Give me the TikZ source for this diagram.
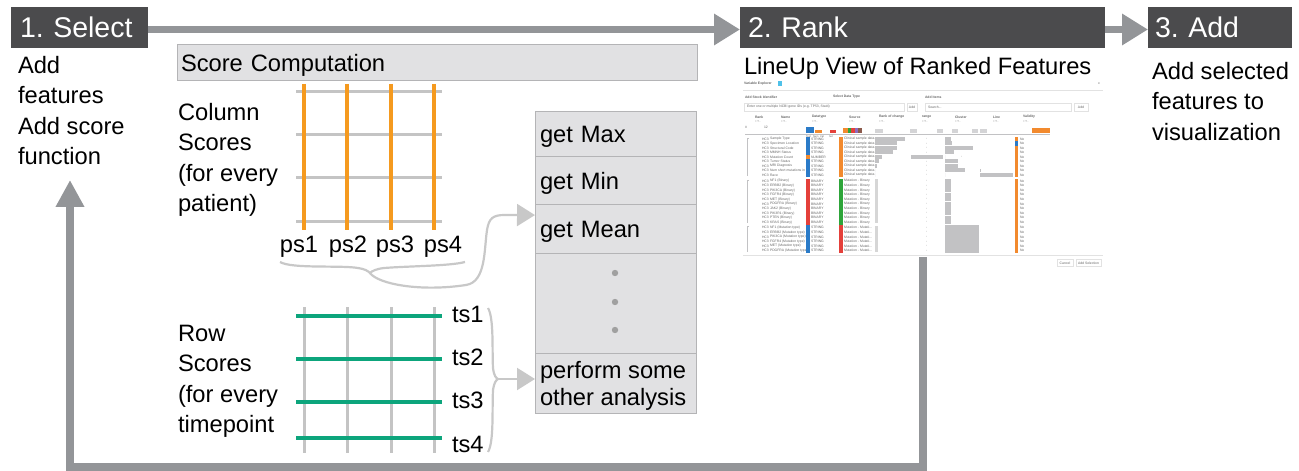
\documentclass[tikz,border=0pt]{standalone}
\usepackage{fontspec}
\setmainfont{Liberation Sans}
\usetikzlibrary{arrows.meta,calc}
\frenchspacing

% main palette
\definecolor{hdr}{HTML}{4B4B4D}
\definecolor{flowgray}{HTML}{939598}
\definecolor{boxfill}{HTML}{E1E1E3}
\definecolor{boxline}{HTML}{B4B4B6}
\definecolor{gridgray}{HTML}{C4C4C4}
\definecolor{scoreorange}{HTML}{F59A1F}
\definecolor{scoregreen}{HTML}{0DA57C}
\definecolor{bracegray}{HTML}{C8C8C8}
\definecolor{dotgray}{HTML}{A0A0A0}
% LineUp view palette
\definecolor{luBlue}{HTML}{2B7BC8}
\definecolor{luOrange}{HTML}{F28A2E}
\definecolor{luRed}{HTML}{E4403A}
\definecolor{luGreen}{HTML}{2EA53A}
\definecolor{luPurple}{HTML}{8E6BBF}
\definecolor{luBrown}{HTML}{8C5A4B}
\definecolor{luBar}{HTML}{C2C2C4}
\definecolor{luText}{HTML}{666666}
\definecolor{luCyan}{HTML}{4FC1E9}
\definecolor{luLine}{HTML}{E2E2E2}
\definecolor{luFaint}{HTML}{D6D6D6}

\newcommand{\bodyfont}{\fontsize{23.7bp}{30.5bp}\selectfont}
\newcommand{\stagefont}{\fontsize{28.5bp}{34bp}\selectfont}
\newcommand{\menufont}{\fontsize{23.7bp}{27bp}\selectfont}
\newcommand{\lutiny}{\fontsize{3.4bp}{4bp}\selectfont}
\newcommand{\lumicro}{\fontsize{2.6bp}{3bp}\selectfont}

\begin{document}
\begin{tikzpicture}[x=1bp,y=-1bp,
  stage/.style={fill=hdr,text=white,font=\stagefont,align=left,anchor=north west,
    minimum height=41bp,inner ysep=0pt,outer sep=0pt},
  flow/.style={draw=flowgray,line width=7bp,line join=miter,-{Triangle[length=26bp,width=30bp]}},
  note/.style={font=\bodyfont,align=left,anchor=north west,inner sep=0pt,outer sep=0pt},
  grayrow/.style={draw=boxline,fill=boxfill,line width=1bp,anchor=north west,font=\bodyfont,
    align=left,inner xsep=5bp,inner ysep=0pt,outer sep=0pt},
  oneline/.style={text height=17bp,text depth=0bp},
  scorelabel/.style={font=\bodyfont,inner sep=0pt,outer sep=0pt},
  gridline/.style={draw=gridgray,line width=3bp},
  colscore/.style={draw=scoreorange,line width=3.5bp},
  rowscore/.style={draw=scoregreen,line width=3.5bp},
  brace/.style={draw=bracegray,line width=2.2bp},
  bracearrow/.style={brace,-{Triangle[length=18bp,width=22bp]}},
  lutxt/.style={font=\lutiny,text=luText,inner sep=0pt,outer sep=0pt,anchor=west},
  lubold/.style={lutxt,font=\lutiny\bfseries},
  lubox/.style={draw=luLine,line width=0.6bp},
  luaxis/.style={draw=luBar,line width=0.7bp},
  lutree/.style={draw=luBar,line width=0.6bp},
]
\useasboundingbox (0,0) rectangle (1299,471);

% ---------- workflow stages ----------
\node[stage,text width=119bp,inner xsep=9bp] (select) at (11,7) {1. Select};
\node[stage,text width=349bp,inner xsep=8bp] (rank) at (740,7) {2. Rank};
\node[stage,text width=130bp,inner xsep=7bp] (add) at (1148,7) {3. Add};
\draw[flow] ([yshift=-2bp]select.east) -- ([yshift=-2bp]rank.west);
\draw[flow] ([yshift=-2bp]rank.east) -- ([yshift=-2bp]add.west);

\node[note] (seltext) at (18,56) {Add\\features\\Add score\\function};
\node[note] (lutitle) at (744,57) {LineUp View of Ranked Features};
\node[note] (addtext) at (1152,62) {Add selected\\features to\\visualization};

% ---------- score computation ----------
\node[grayrow,oneline,text width=512bp,inner xsep=4bp,minimum height=36bp] (scorecomp) at (177,45) {Score Computation};

\node[note] (coltext) at (178,103) {Column\\Scores\\(for every\\patient)};
\node[note] (rowtext) at (178,325) {Row\\Scores\\(for every\\timepoint};

% column scores grid
\foreach \y in {92,135,178,222} \draw[gridline] (296,\y) -- (442,\y);
\foreach \x in {304,347,391,434} \draw[colscore] (\x,84) -- (\x,230);
\foreach \x [count=\k] in {299,348,395,443} \node[scorelabel,anchor=base] (ps\k) at (\x,253) {ps\k};

% row scores grid
\foreach \x in {304,347,391,434} \draw[gridline] (\x,307) -- (\x,453);
\foreach \y in {316,359,402,438} \draw[rowscore] (296,\y) -- (442,\y);
\foreach \y [count=\k] in {323,365,408,452} \node[scorelabel,anchor=base west] (ts\k) at (452,\y) {ts\k};

% score functions
\node[grayrow,oneline,text width=151bp,minimum height=45bp] (max) at (535,112) {get Max};
\node[grayrow,oneline,text width=151bp,minimum height=48bp] (min) at (max.south west) {get Min};
\node[grayrow,oneline,text width=151bp,minimum height=48bp] (mean) at (min.south west) {get Mean};
\node[grayrow,text width=151bp,minimum height=100bp] (more) at (mean.south west) {};
\node[grayrow,text width=151bp,minimum height=60bp] (other) at (more.south west) {};
\node[note,font=\menufont] (othertext) at (540,361) {perform some\\other analysis};
\foreach \y in {273,302,330} \fill[dotgray] (615,\y) circle (3.2bp);

% brace under the patient scores
\coordinate (cbtip) at (370,273);
\draw[brace] (280,262) .. controls (292,269) and (340,265) .. (358,268)
  .. controls (365,269) and (368,271) .. (cbtip)
  .. controls (372,271) and (376,269) .. (384,268)
  .. controls (410,266) and (450,266) .. (465,262);
\coordinate (meanin) at ($(mean.north west)!0.21!(mean.south west)$);
\draw[bracearrow] (cbtip) .. controls (378,284) and (420,292) .. (466,285)
  .. controls (486,282) and (484,250) .. (487,230)
  .. controls (489,218) and (493,215) .. (505,215) -- (meanin);

% brace beside the timepoint scores
\coordinate (rbtip) at (498,379);
\draw[brace] (488,308) .. controls (494,318) and (492,350) .. (493,368)
  .. controls (494,376) and (496,378) .. (rbtip)
  .. controls (496,380) and (494,383) .. (493,390)
  .. controls (492,410) and (494,442) .. (488,452);
\draw[bracearrow] (rbtip) -- (rbtip -| other.west);

% ---------- LineUp view ----------
\node[minimum width=361bp,minimum height=178bp,anchor=north west,inner sep=0pt,outer sep=0pt] (lineup) at (742,79) {};
\node[lubold] (vetitle) at (744,84) {Variable Explorer};
\fill[luCyan] (777.5,81.5) rectangle (782,86);
\node[lutxt] (veclose) at (1098,84) {x};
\draw[luLine,line width=0.6bp] (743,90) -- (1103,90);
\node[lubold] (vestock) at (745,97) {Add Stock Identifier};
\node[lubold] (vetype) at (833,97) {Select Data Type};
\node[lubold] (veitems) at (925,97) {Add Items};
\draw[lubox] (744,103) rectangle (904,111);
\node[lutxt] (vesearchA) at (747,107) {Enter one or multiple NCBI gene IDs (e.g. TP53, Stat4)};
\draw[lubox] (907,103) rectangle (917,111);
\node[lutxt,anchor=center] (veaddA) at (912,107) {Add};
\draw[lubox] (925,103) rectangle (1071,111);
\node[lutxt] (vesearchB) at (928,107) {Search...};
\draw[lubox] (1074,103) rectangle (1088,111);
\node[lutxt,anchor=center] (veaddB) at (1081,107) {Add};

% column headers
\foreach \x/\t [count=\k] in {755/Rank,781/Name,812/Datatype,849/Source,879/Rank of change,922/range,955/Cluster,993/Line,1023/Validity} {
  \node[lubold] (luhead\k) at (\x,117) {\t};
  \node[lutxt,font=\lumicro] (lusort\k) at (\x,122) {= T -};
}
\node[lutxt] (luhash) at (745,127) {\#};
\node[lutxt] (lucount) at (764,127) {12};

% summary histograms
\fill[luBlue] (806,127) rectangle (814,133);
\fill[luOrange] (815,130.5) rectangle (822,133);
\fill[luRed] (830,130.5) rectangle (836,133);
\fill[luOrange] (843,128) rectangle (848,133);
\fill[luGreen] (848,128) rectangle (851,133);
\fill[luRed] (851,128) rectangle (855,133);
\fill[luPurple] (855,128) rectangle (858,133);
\fill[luBrown] (858,128) rectangle (862,133);
\foreach \a/\b in {875/883,910/917,937/943,952/958,972/978,980/987} \fill[luBar!70] (\a,129) rectangle (\b,133);
\fill[luOrange] (1032,128) rectangle (1050,133);
\draw[luaxis] (745,134.5) -- (1050,134.5);
\foreach \x/\t [count=\k] in {806/Text,813/Num,820/Cat,829/Set} \node[lutxt,font=\lumicro] (lutype\k) at (\x,136.5) {\t};

% clinical rows
\draw[lutree] (749,138) -- (747,138) -- (747,176.5);
\foreach \nm/\dt/\dtt/\roc/\cl/\ds/\vc [count=\k from 0] in {
  {Sample Type}/luBlue/STRING/30/6/-/luOrange,
  {Specimen Location}/luBlue/STRING/22/7/-/luBlue,
  {Structural Code}/luBlue/STRING/22/28/-/luOrange,
  {MMNH Status}/luBlue/STRING/18/9/-/luOrange,
  {Mutation Count}/luOrange/NUMBER/7/0/{}/luOrange,
  {Tumor Status}/luBlue/STRING/4/13/-/luOrange,
  {MRI Diagnosis}/luBlue/STRING/2/13/-/luOrange,
  {Num short mutations in}/luBlue/STRING/0/20/-/luOrange,
  {Race}/luBlue/STRING/0/0/-/luOrange} {
  \pgfmathsetmacro{\yy}{139+4.5*\k}
  \node[lutxt] (ga\k) at (762,\yy) {HC3};
  \node[lutxt] (gb\k) at (770,\yy) {\nm};
  \fill[\dt] (806,\yy-2.2) rectangle (809.5,\yy+2.2);
  \node[lutxt] (gc\k) at (811,\yy) {\dtt};
  \fill[luOrange] (839,\yy-2.2) rectangle (842.5,\yy+2.2);
  \node[lutxt] (gd\k) at (844,\yy) {Clinical sample data};
  \fill[luBar] (875,\yy-2) rectangle (875+\roc,\yy+2);
  \node[lutxt] (ge\k) at (926,\yy) {\ds};
  \fill[luBar] (945,\yy-2) rectangle (945+\cl,\yy+2);
  \fill[\vc] (1015,\yy-2.2) rectangle (1018,\yy+2.2);
  \node[lutxt] (gf\k) at (1020,\yy) {No};
}
\fill[luBar] (911,155) rectangle (943,159);
\node[lutxt] (gdash) at (961,157) {-};
\fill[luBar] (980,169) rectangle (980.9,172.5);
\fill[luBar] (980,173) rectangle (1013,177);

% binary mutation rows
\draw[lutree] (749,180) -- (747,180) -- (747,223.5);
\fill[luFaint] (875,179.5) rectangle (877.5,223.5);
\foreach \nm [count=\k from 0] in {{NF1 (Binary)},{ERBB2 (Binary)},{PIK3CA (Binary)},{FGFR4 (Binary)},{MET (Binary)},{PDGFRA (Binary)},{JAK2 (Binary)},{PIK3R1 (Binary)},{PTEN (Binary)},{KRAS (Binary)}} {
  \pgfmathsetmacro{\yy}{181+4.6*\k}
  \node[lutxt] (ha\k) at (762,\yy) {HC3};
  \node[lutxt] (hb\k) at (770,\yy) {\nm};
  \fill[luRed] (806,\yy-2.3) rectangle (809.5,\yy+2.3);
  \node[lutxt] (hc\k) at (811,\yy) {BINARY};
  \fill[luGreen] (839,\yy-2.3) rectangle (842.5,\yy+2.3);
  \node[lutxt] (hd\k) at (844,\yy) {Mutation - Binary};
  \node[lutxt] (he\k) at (926,\yy) {-};
  \fill[luBar] (945,\yy-2.1) rectangle (951,\yy+2.1);
  \fill[luOrange] (1015,\yy-2.3) rectangle (1018,\yy+2.3);
  \node[lutxt] (hf\k) at (1020,\yy) {No};
}

% mutation type rows
\draw[lutree] (749,226.5) -- (747,226.5) -- (747,252.5);
\fill[luFaint] (875,226) rectangle (877.5,252.5);
\foreach \nm [count=\k from 0] in {{NF1 (Mutation type)},{ERBB2 (Mutation type)},{PIK3CA (Mutation type)},{FGFR4 (Mutation type)},{MET (Mutation type)},{PDGFRA (Mutation type)}} {
  \pgfmathsetmacro{\yy}{227.7+4.6*\k}
  \node[lutxt] (ia\k) at (762,\yy) {HC3};
  \node[lutxt] (ib\k) at (770,\yy) {\nm};
  \fill[luBlue] (806,\yy-2.3) rectangle (809.5,\yy+2.3);
  \node[lutxt] (ic\k) at (811,\yy) {STRING};
  \fill[luRed] (839,\yy-2.3) rectangle (842.5,\yy+2.3);
  \node[lutxt] (id\k) at (844,\yy) {Mutation - Mutati...};
  \node[lutxt] (ie\k) at (926,\yy) {-};
  \fill[luBar] (945,\yy-2.3) rectangle (979,\yy+2.3);
  \fill[luOrange] (1015,\yy-2.3) rectangle (1018,\yy+2.3);
  \node[lutxt] (if\k) at (1020,\yy) {No};
}

% dialog footer
\draw[luLine,line width=0.6bp] (743,255) -- (1103,255);
\draw[lubox] (1057,259.5) rectangle (1073,266.5);
\node[lutxt,anchor=center] (vecancel) at (1065,263) {Cancel};
\draw[lubox] (1076,259.5) rectangle (1101,266.5);
\node[lutxt,anchor=center] (veaccept) at (1088.5,263) {Add Selection};

% ---------- feedback loop back to selection ----------
\coordinate (fbcorner) at (70,467);
\coordinate (fbtip) at (70,180);
\draw[flow,line width=8bp,-{Triangle[length=27bp,width=27bp]}] (lineup.south) |- (fbcorner) -- (fbtip);
\end{tikzpicture}
\end{document}
